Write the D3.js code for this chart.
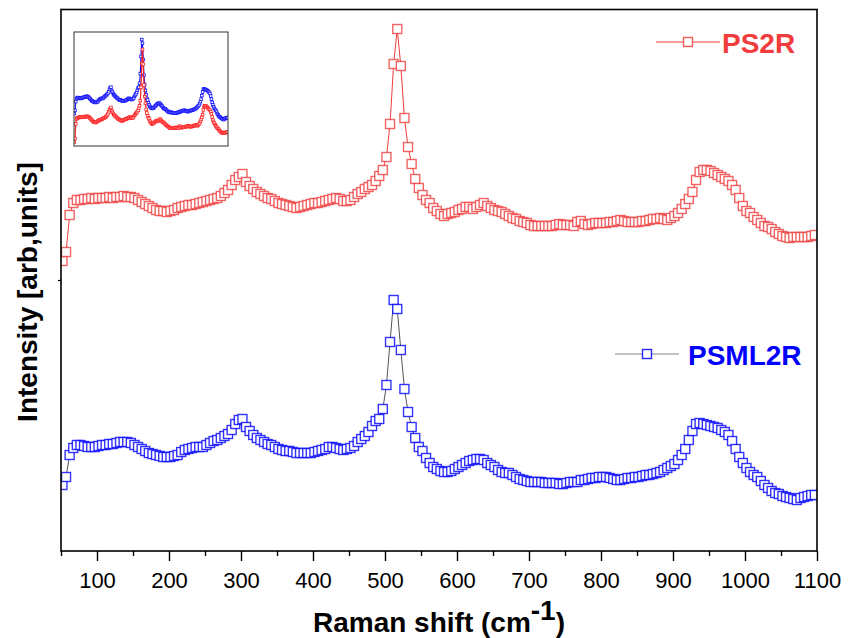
<!DOCTYPE html>
<html><head><meta charset="utf-8">
<script src="https://cdn.jsdelivr.net/npm/d3@7"></script>
<style>
html,body{margin:0;padding:0;background:#fff;}
svg{display:block;font-family:"Liberation Sans",Arial,sans-serif;}
</style></head>
<body>
<svg id="chart" width="856" height="638"></svg>
<script>
// Raman shift (cm^-1) sample positions
const shift = [
52,57,62,67,72,77,82,87,92,97,
102,107,112,117,122,127,132,137,142,147,
152,157,162,167,172,177,182,187,192,197,
202,207,212,217,222,227,232,237,242,247,
252,257,262,267,272,277,282,287,292,297,
302,307,312,317,322,327,332,337,342,347,
352,357,362,367,372,377,382,387,392,397,
402,407,412,417,422,427,432,437,442,447,
452,457,462,467,472,477,482,487,492,497,
502,507,512,517,522,527,532,537,542,547,
552,557,562,567,572,577,582,587,592,597,
602,607,612,617,622,627,632,637,642,647,
652,657,662,667,672,677,682,687,692,697,
702,707,712,717,722,727,732,737,742,747,
752,757,762,767,772,777,782,787,792,797,
802,807,812,817,822,827,832,837,842,847,
852,857,862,867,872,877,882,887,892,897,
902,907,912,917,922,927,932,937,942,947,
952,957,962,967,972,977,982,987,992,997,
1002,1007,1012,1017,1022,1027,1032,1037,1042,1047,
1052,1057,1062,1067,1072,1077,1082,1087,1092,1097];

// PS2R intensity (arb. units, offset spectrum)
const ps2r = [
290,299,336,348,351,351,352,352,353,352,
353,353,353,354,353,354,354,355,354,354,
353,351,349,347,345,343,341,340,340,339,
340,341,343,344,345,346,346,347,348,349,
350,351,352,353,355,358,361,366,371,374,
377,369,365,362,359,357,355,353,352,350,
348,347,346,345,344,343,344,345,346,347,
348,348,349,350,351,352,353,352,350,350,
351,354,357,359,362,364,366,370,375,381,
394,427,487,522,485,433,404,387,372,363,
356,351,348,343,340,337,335,337,338,339,
341,342,344,344,342,344,346,348,345,343,
341,340,339,337,335,333,332,330,329,328,
326,325,325,325,325,325,325,326,327,326,
326,326,325,329,330,327,326,327,328,328,
328,328,329,329,330,331,330,329,329,329,
329,330,330,331,332,332,333,332,331,333,
335,338,342,347,352,359,371,379,381,381,
380,378,376,374,372,370,366,361,353,345,
340,338,334,331,328,325,324,322,319,317,
315,314,313,314,314,314,314,314,315,316];

// PSML2R intensity (arb. units)
const psml2r = [
66,74,96,103,106,106,105,104,104,104,
105,106,106,107,107,108,109,109,109,108,
106,104,102,100,98,97,96,95,94,94,
94,95,96,99,101,102,103,104,104,104,
106,108,110,111,113,115,117,121,127,131,
132,124,120,116,113,111,109,107,106,104,
102,101,100,100,99,98,98,98,98,98,
99,100,101,102,104,104,103,102,101,102,
103,105,109,112,115,119,125,130,132,142,
166,209,251,242,201,162,139,124,113,104,
100,93,88,84,82,80,79,79,80,82,
84,86,88,90,91,92,92,91,88,86,
84,81,79,78,78,76,74,72,71,70,
69,69,69,69,68,68,68,68,67,67,
68,69,69,69,71,71,72,73,73,74,
74,74,73,72,71,71,72,73,73,74,
74,75,76,76,77,78,79,81,83,85,
87,91,96,102,111,120,127,128,127,126,
125,124,123,121,119,116,110,102,94,88,
83,79,76,74,70,66,63,60,58,57,
55,54,53,52,51,53,54,55,56,56];

const seriesNames = ["PS2R", "PSML2R"];
const xMajorTicks = [100,200,300,400,500,600,700,800,900,1000,1100];
const xMinorTicks = [50,150,250,350,450,550,650,750,850,950,1050];
const xDomain = [50, 1100];
const yDomain = [0, 541.5];
const insetYDomain = [280.5, 565.5];
const insetOffsets = [0, 295.5]; // vertical offset of each spectrum in the inset

const RED = "#f03c3c", BLUE = "#0000ff";

const svg = d3.select("#chart");
const P = {l:61, r:817, t:9.5, b:551};

const x = d3.scaleLinear().domain(xDomain).range([P.l, P.r]);
const y = d3.scaleLinear().domain(yDomain).range([P.b, P.t]);

svg.append("defs").append("clipPath").attr("id","plotclip")
  .append("rect").attr("x",P.l).attr("y",P.t).attr("width",P.r-P.l).attr("height",P.b-P.t);

const red = shift.map((s,i)=>({x:s, y:ps2r[i]}));
const blue = shift.map((s,i)=>({x:s, y:psml2r[i]}));

const plot = svg.append("g").attr("clip-path","url(#plotclip)");
const line = d3.line().x(d=>x(d.x)).y(d=>y(d.y));
const MS = 9;

function drawSeries(data, lineColor, markColor){
  plot.append("path").datum(data).attr("d", line)
    .attr("fill","none").attr("stroke", lineColor).attr("stroke-width",1);
  plot.append("g").selectAll("rect").data(data).join("rect")
    .attr("x", d=>x(d.x)-MS/2).attr("y", d=>y(d.y)-MS/2)
    .attr("width", MS).attr("height", MS)
    .attr("fill","#fff").attr("stroke", markColor).attr("stroke-opacity",0.8)
    .attr("stroke-width",1.4);
}
drawSeries(red, RED, RED);
drawSeries(blue, "#555", BLUE);

// frame
svg.append("rect").attr("x",P.l).attr("y",P.t).attr("width",P.r-P.l).attr("height",P.b-P.t)
  .attr("fill","none").attr("stroke","#000").attr("stroke-width",1.6);

// x axis
const gMinor = svg.append("g").attr("transform",`translate(0,${P.b})`)
  .call(d3.axisBottom(x).tickValues(xMinorTicks).tickSize(5).tickSizeOuter(0).tickFormat(""));
const gMajor = svg.append("g").attr("transform",`translate(0,${P.b})`)
  .call(d3.axisBottom(x).tickValues(xMajorTicks).tickSize(10).tickSizeOuter(0).tickFormat(d3.format("d")));
[gMinor,gMajor].forEach(g=>{
  g.select(".domain").remove();
  g.selectAll(".tick line").attr("stroke","#000").attr("stroke-width",1.4);
});
gMajor.selectAll(".tick text").attr("y",37).attr("dy",null)
  .attr("font-size",22).attr("fill","#000")
  .attr("font-family",'"Liberation Sans",Arial,sans-serif');

// small y tick
svg.append("g").attr("transform",`translate(${P.l},0)`)
  .call(d3.axisLeft(y).tickValues([271]).tickSize(3).tickFormat(""))
  .call(g=>g.select(".domain").remove())
  .selectAll(".tick line").attr("stroke","#000").attr("stroke-width",1.2);

// axis titles
const xt = svg.append("text").attr("x",439).attr("y",632).attr("text-anchor","middle")
  .attr("font-size",28).attr("font-weight","bold").attr("fill","#000");
xt.append("tspan").text("Raman shift (cm");
xt.append("tspan").attr("dy",-12).text("-1");
xt.append("tspan").attr("dy",12).text(")");

svg.append("text").attr("transform","translate(37,292) rotate(-90)")
  .attr("text-anchor","middle").attr("font-size",28).attr("font-weight","bold")
  .attr("fill","#000").text("Intensity [arb,units]");

// legends
function legend(x0,x1,yy,lineColor,markColor,label,tx,labelColor){
  const g = svg.append("g");
  g.append("line").attr("x1",x0).attr("x2",x1).attr("y1",yy).attr("y2",yy)
    .attr("stroke",lineColor).attr("stroke-width",1.2);
  const cx=(x0+x1)/2;
  g.append("rect").attr("x",cx-MS/2).attr("y",yy-MS/2).attr("width",MS).attr("height",MS)
    .attr("fill","#fff").attr("stroke",markColor).attr("stroke-width",1.4).attr("stroke-opacity",0.85);
  g.append("text").attr("x",tx).attr("y",yy+10.5).attr("font-size",28).attr("font-weight","bold")
    .attr("fill",labelColor).text(label);
}
legend(656,720,42,RED,RED,seriesNames[0],722,RED);
legend(615,679,354,"#888",BLUE,seriesNames[1],688,BLUE);

// inset
const I = {l:74, r:228, t:32, b:146};
const ix = d3.scaleLinear().domain(xDomain).range([I.l, I.r]);
const iy = d3.scaleLinear().domain(insetYDomain).range([I.b, I.t]);
svg.append("defs").append("clipPath").attr("id","insetclip")
  .append("rect").attr("x",I.l).attr("y",I.t).attr("width",I.r-I.l).attr("height",I.b-I.t);
const ig = svg.append("g").attr("clip-path","url(#insetclip)");
const iline = d3.line().x(d=>ix(d.x)).y(d=>iy(d.y));
function insetSeries(data, off, color){
  const d2 = data.map(d=>({x:d.x, y:d.y+off}));
  ig.append("path").datum(d2).attr("d",iline).attr("fill","none")
    .attr("stroke",color).attr("stroke-width",1.2);
  ig.append("g").selectAll("rect").data(d2).join("rect")
    .attr("x",d=>ix(d.x)-1.3).attr("y",d=>iy(d.y)-1.3).attr("width",2.6).attr("height",2.6)
    .attr("fill","#fff").attr("stroke",color).attr("stroke-width",0.8);
}
insetSeries(blue, insetOffsets[1], "#1010ff");
insetSeries(red, insetOffsets[0], "#ff2020");
svg.append("rect").attr("x",I.l).attr("y",I.t).attr("width",I.r-I.l).attr("height",I.b-I.t)
  .attr("fill","none").attr("stroke","#333").attr("stroke-width",1);
</script>
</body></html>
